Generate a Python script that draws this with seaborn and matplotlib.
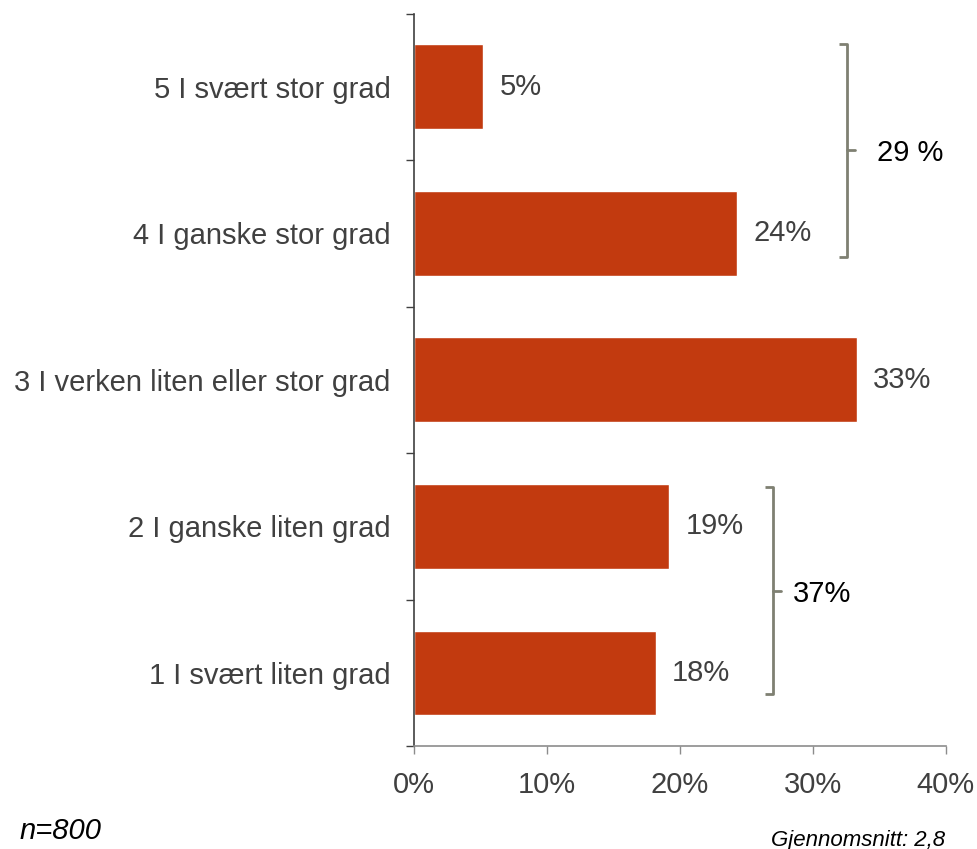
import matplotlib
matplotlib.use("Agg")
import matplotlib.pyplot as plt
import seaborn as sns

sns.set_style("white")
plt.rcParams['font.family'] = ['Liberation Sans', 'DejaVu Sans']

# Data
categories = ['5 I svært stor grad', '4 I ganske stor grad',
              '3 I verken liten eller stor grad', '2 I ganske liten grad',
              '1 I svært liten grad']
values = [5.2, 24.3, 33.3, 19.2, 18.2]
value_labels = ['5%', '24%', '33%', '19%', '18%']
x_ticks = [0, 10, 20, 30, 40]
x_tick_labels = ['0%', '10%', '20%', '30%', '40%']

# groups shown with brackets: (first index, last index, label)
top_group = (0, 1, '29 %')
bottom_group = (3, 4, '37%')

bar_color = '#C23A0F'
text_color = '#404040'
bracket_color = '#7F8072'
fs = 21

fig = plt.figure(figsize=(9.77, 8.49), dpi=100)
ax = fig.add_axes([0.424, 0.121, 0.544, 0.863])

sns.barplot(x=values, y=categories, color=bar_color, width=0.58,
            orient='h', saturation=1, ax=ax)

ax.set_xlim(0, 40)
ax.set_ylim(len(categories) - 0.5, -0.5)
ax.set_xticks(x_ticks)
ax.set_xticklabels(x_tick_labels)
ax.set_xlabel('')
ax.set_ylabel('')

# y ticks between categories, labels centered on bars
ax.set_yticks([i - 0.5 for i in range(len(categories) + 1)], minor=True)
ax.tick_params(axis='y', which='major', left=True, length=0, pad=17,
               labelsize=fs, labelcolor=text_color)
ax.tick_params(axis='y', which='minor', left=True, length=6, width=1,
               color='#404040', direction='out')
ax.tick_params(axis='x', which='major', bottom=True, length=6, width=1,
               color='#8C8C8C', direction='out', pad=12, labelsize=fs,
               labelcolor=text_color)

for side in ['top', 'right']:
    ax.spines[side].set_visible(False)
ax.spines['left'].set_color('#404040')
ax.spines['left'].set_linewidth(1.2)
ax.spines['bottom'].set_color('#8C8C8C')
ax.spines['bottom'].set_linewidth(1.2)

# value labels
for i, (v, lab) in enumerate(zip(values, value_labels)):
    ax.text(v + 1.2, i, lab, va='center', ha='left', fontsize=fs,
            color=text_color)


def bracket(x, y0, y1, label, label_dx):
    serif = 0.6
    ym = (y0 + y1) / 2
    ax.plot([x - serif, x, x, x - serif], [y0, y0, y1, y1],
            color=bracket_color, lw=2, solid_capstyle='butt', clip_on=False)
    ax.plot([x, x + serif], [ym, ym], color=bracket_color, lw=2,
            clip_on=False)
    ax.text(x + label_dx, ym + 0.02, label, va='center', ha='left',
            fontsize=fs, color='black')


bracket(32.6, top_group[0] - 0.295, top_group[1] + 0.16, top_group[2], 2.2)
bracket(27.0, bottom_group[0] - 0.27, bottom_group[1] + 0.145,
        bottom_group[2], 1.5)

fig.text(0.02, 0.012, 'n=800', fontsize=21, style='italic', color='black')
fig.text(0.967, 0.004, 'Gjennomsnitt: 2,8', fontsize=16, style='italic',
         color='black', ha='right')

fig.savefig('out.png', dpi=100)
